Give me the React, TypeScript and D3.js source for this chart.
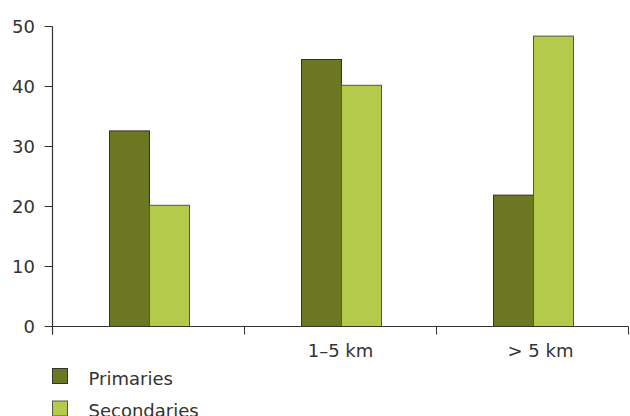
import React from "react";
import * as d3 from "d3";

const categories = ["", "1–5 km", "> 5 km"];
const seriesNames = ["Primaries", "Secondaries"];
const primaries = [32.6, 44.5, 21.9];
const secondaries = [20.2, 40.2, 48.4];
const yTicks = [0, 10, 20, 30, 40, 50];

const W = 630;
const H = 416;
const fills = ["#6b7821", "#b3ca4b"];
const strokes = ["#333333", "#555555"];
const font = "'DejaVu Sans', Verdana, sans-serif";
const textColor = "#333333";
const fs = 18;

export default function App() {
  const left = 52.5;
  const right = 628.5;
  const y = d3.scaleLinear().domain([0, 50]).range([326.5, 26.5]);
  const x0 = d3.scaleBand<string>().domain(categories).range([left, right]).padding(0);
  const groupW = 80;
  const x1 = d3.scaleBand<string>().domain(seriesNames).range([0, groupW]).padding(0);
  const values = [primaries, secondaries];
  const bw = x0.bandwidth();
  const boundaries = [left, ...categories.map((c) => (x0(c) as number) + bw)];

  return (
    <svg
      width={W}
      height={H}
      style={{ position: "absolute", left: 0, top: 0, display: "block", background: "#fff" }}
    >
      {/* bars */}
      {categories.map((c, ci) =>
        seriesNames.map((s, si) => {
          const v = values[si][ci];
          const bx = (x0(c) as number) + (bw - groupW) / 2 + (x1(s) as number);
          return (
            <rect
              key={c + s}
              x={Math.round(bx) + 0.5}
              y={y(v)}
              width={x1.bandwidth()}
              height={y(0) - y(v)}
              fill={fills[si]}
              stroke={strokes[si]}
              strokeWidth={1}
            />
          );
        })
      )}
      {/* y axis */}
      <line x1={left} x2={left} y1={y(50)} y2={y(0) + 8} stroke={textColor} strokeWidth={1.2} />
      {yTicks.map((t) => (
        <g key={t}>
          <line x1={left - 8} x2={left} y1={y(t)} y2={y(t)} stroke={textColor} strokeWidth={1} />
          <text
            x={35}
            y={y(t)}
            dy="0.35em"
            textAnchor="end"
            fontFamily={font}
            fontSize={fs}
            fill={textColor}
          >
            {t}
          </text>
        </g>
      ))}
      {/* x axis */}
      <line x1={left} x2={right} y1={y(0)} y2={y(0)} stroke={textColor} strokeWidth={1.2} />
      {boundaries.map((b, i) => (
        <line key={i} x1={b} x2={b} y1={y(0)} y2={y(0) + 8} stroke={textColor} strokeWidth={1} />
      ))}
      {categories.map((c) => (
        <text
          key={c}
          x={(x0(c) as number) + bw / 2 + (c.startsWith(">") ? 8 : 0)}
          y={357}
          textAnchor="middle"
          fontFamily={font}
          fontSize={fs}
          fill={textColor}
        >
          {c}
        </text>
      ))}
      {/* legend */}
      {seriesNames.map((s, i) => (
        <g key={s} transform={`translate(52.5, ${368.5 + i * 32.5})`}>
          <rect width={15} height={15} fill={fills[i]} stroke={strokes[i]} strokeWidth={1} />
          <text x={36} y={16} fontFamily={font} fontSize={fs} fill={textColor}>
            {s}
          </text>
        </g>
      ))}
    </svg>
  );
}
